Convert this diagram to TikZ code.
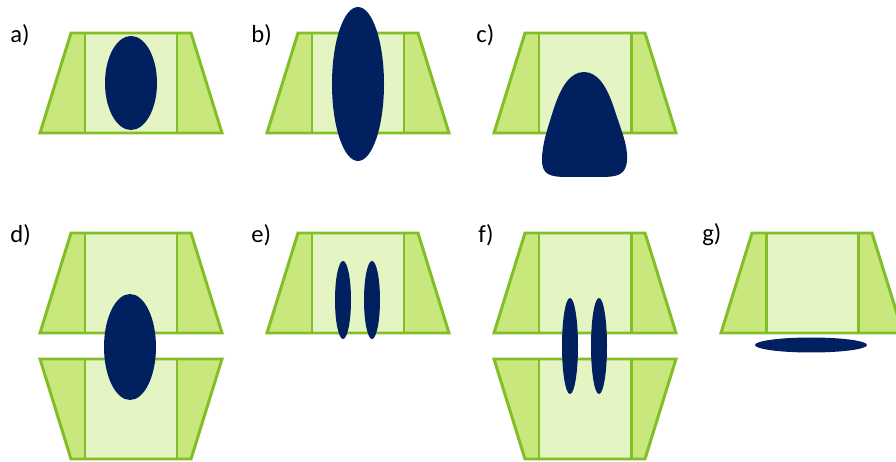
\documentclass[tikz,border=0pt]{standalone}
\usepackage{fontspec}
\setmainfont{Carlito}
\usepackage{tikz}
\usetikzlibrary{calc, positioning}

\definecolor{rimgreen}{HTML}{82BE28}
\definecolor{sidegreen}{HTML}{C8E87D}
\definecolor{coregreen}{HTML}{E4F5C3}
\definecolor{blobblue}{HTML}{002060}

\tikzset{
  edge/.style={draw=rimgreen, line width=1.7pt, line join=miter},
  sidefill/.style={fill=sidegreen},
  corefill/.style={fill=coregreen},
  blob/.style={fill=blobblue},
  tag/.style={anchor=west, inner sep=0pt, font=\fontsize{14}{16}\selectfont},
  pics/block/.style={code={
    \fill[corefill] (-46,0) rectangle (46,100);
    \fill[sidefill] (-60,0) -- (-46,0) -- (-46,100) -- (-91,100) -- cycle;
    \fill[sidefill] (60,0) -- (46,0) -- (46,100) -- (91,100) -- cycle;
    \draw[edge] (-46,0) -- (-46,100) (46,0) -- (46,100);
    \draw[edge] (-60,0) -- (60,0) -- (91,100) -- (-91,100) -- cycle;
  }},
}

\begin{document}
\begin{tikzpicture}[x=.02cm, y=-.02cm]
        \useasboundingbox (0,0) rectangle (896,462);
        % panel labels
        \foreach \name/\px/\py in {a/10/35, b/251/35, c/476/35, d/10/235, e/251/235, f/478/235, g/702/235}{
          \node[tag] (l\name) at (\px, \py) {\name)};
          }
        % upper blocks
        \foreach \cx/\cy in {131/33, 358/33, 585/33, 131/233, 358/233, 585/233, 812/233}{
          \pic at (\cx, \cy) {block};
          }
        % lower (flipped) blocks
        \foreach \cx in {131, 585}{
          \pic[yscale=-1] at (\cx, 459) {block};
          }
        % a), b), d), g)
        \fill[blob] (131,83) ellipse [x radius=26, y radius=47];
        \fill[blob] (358,84) ellipse [x radius=26, y radius=77];
        \fill[blob] (130,347) ellipse [x radius=26, y radius=53];
        \fill[blob] (811,345) ellipse [x radius=56, y radius=7.5];
        % e) and f)
        \foreach \ex in {343, 372}{
          \fill[blob] (\ex,300) ellipse [x radius=8, y radius=39];
          }
        \foreach \ex in {570, 599}{
          \fill[blob] (\ex,346) ellipse [x radius=8, y radius=48];
          }
        % c)
        \fill[blob] (584,72) .. controls (598,72) and (607,87) .. (614,108)
          .. controls (621,130) and (628,145) .. (627,160)
          .. controls (626,175) and (618,177) .. (600,177) -- (568,177)
          .. controls (550,177) and (542,175) .. (542,160)
          .. controls (542,145) and (547,130) .. (554,108)
          .. controls (561,87) and (570,72) .. (584,72) -- cycle;
      \end{tikzpicture}
\end{document}
